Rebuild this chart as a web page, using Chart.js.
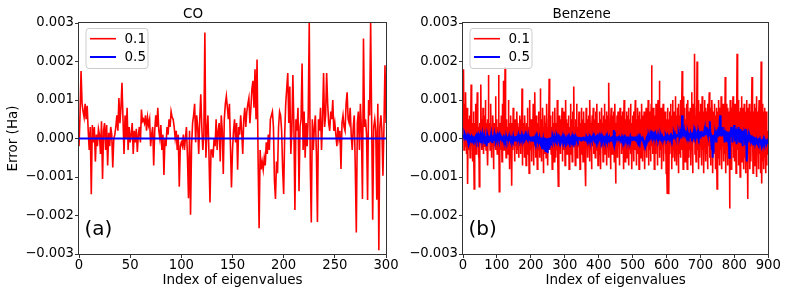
<!DOCTYPE html>
<html>
<head>
  <title>Eigenvalue errors: CO and Benzene</title>
  <script src="https://cdn.jsdelivr.net/npm/chart.js"></script>
  <style>
    body { margin: 0; background: #fff; }
    canvas { position: absolute; top: 0; }
  </style>
</head>
<body>
  <canvas id="coChart" width="430" height="296" style="left:0"></canvas>
  <canvas id="bzChart" width="394" height="296" style="left:395px"></canvas>

  <script>
    // errors are written in mHa (1e-3 Ha), one value per eigenvalue index
    const coErr01 = [
      -0.2,0.6,1.75,0.9,0.7,0.55,0.9,0.5,0.85,0.2,
      -0.3,0.3,-1.45,0.35,-0.1,0.3,-0.6,0.1,-0.2,0.25,
      0.1,-0.4,0.45,-1.05,0.2,0.4,-0.3,0.35,-0.7,0.15,
      -0.2,0.3,0.1,-0.75,0.0,0.1,0.3,0.6,0.2,1.05,
      0.4,0.8,1.45,0.5,-0.4,0.6,0.0,0.8,-0.3,0.3,
      -0.1,0.1,0.4,-0.4,0.2,-0.1,0.25,-0.35,0.1,0.3,
      -0.1,0.75,0.45,0.5,0.4,0.6,0.2,0.55,0.35,0.5,
      -0.2,0.1,0.3,-0.7,0.2,0.6,0.3,0.8,0.2,0.0,
      0.35,-0.3,0.1,-0.95,0.0,-0.2,0.3,0.1,0.5,0.3,
      0.7,0.55,0.5,0.3,0.0,0.2,-0.3,0.1,-1.25,-0.2,
      -0.1,-0.2,0.1,-0.3,0.0,0.3,-0.5,-1.55,0.2,-1.98,
      -0.2,0.4,0.6,0.9,-0.1,0.6,0.3,-0.4,0.5,1.15,
      0.3,-0.3,0.1,2.75,-0.5,0.2,0.6,-0.4,-1.66,-0.3,
      -0.3,-0.5,0.0,-0.2,0.5,-0.3,0.2,0.4,-0.6,0.6,
      0.2,-0.92,0.5,0.9,1.1,0.8,0.5,0.9,-0.2,-1.27,
      -0.3,0.2,0.5,-0.1,0.4,-0.81,0.3,0.1,0.6,0.2,
      -0.4,0.5,0.8,0.3,0.7,0.9,1.05,0.4,0.8,1.3,
      1.5,0.8,1.8,0.5,2.05,-0.5,-2.33,-0.3,-0.8,-0.6,
      -0.81,-0.5,-0.7,-0.1,-0.4,0.1,-0.3,0.5,0.6,0.7,
      0.3,-1.1,-1.57,-0.6,-0.9,0.3,0.7,0.6,0.2,-0.8,
      -1.44,0.1,0.9,1.3,1.7,0.4,1.35,-0.4,0.2,1.65,
      0.3,-1.86,0.5,0.2,0.8,-1.37,0.3,0.5,1.95,-0.3,
      0.7,-0.5,0.4,-0.2,0.6,3.0,-0.7,-2.18,0.5,-0.3,
      0.3,0.6,-0.4,-2.17,0.5,0.2,0.8,-0.3,0.5,1.7,
      0.3,0.6,1.7,0.9,0.4,0.2,0.7,0.5,1.0,0.2,
      0.4,0.1,-0.2,0.3,0.0,0.2,-0.79,0.4,0.6,0.3,
      0.2,0.9,1.2,0.5,0.4,0.8,0.1,-0.3,0.3,0.6,
      -0.8,-2.44,0.4,0.7,-0.3,0.9,0.2,-1.57,2.6,0.3,
      0.5,0.1,-1.6,1.0,0.6,3.0,0.4,-2.11,0.3,0.5,
      0.2,-1.59,0.9,-2.9,0.3,0.6,0.2,-0.97,0.3,1.9,
      0.4
    ];

    const coErr05 = [
      0,0,0,0,0,0,0,0,0,0, 0,0,0,0,0,0,0,0,0,0, 0,0,0,0,0,0,0,0,0,0,
      0,0,0,0,0,0,0,0,0,0, 0,0,0,0,0,0,0,0,0,0, 0,0,0,0,0,0,0,0,0,0,
      0,0,0,0,0,0,0,0,0,0, 0,0,0,0,0,0,0,0,0,0, 0,0,0,0,0,0,0,0,0,0,
      0,0,0,0,0,0,0,0,0,0, 0,0,0,0,0,0,0,0,0,0, 0,0,0,0,0,0,0,0,0,0,
      0,0,0,0,0,0,0,0,0,0, 0,0,0,0,0,0,0,0,0,0, 0,0,0,0,0,0,0,0,0,0,
      0,0,0,0,0,0,0,0,0,0, 0,0,0,0,0,0,0,0,0,0, 0,0,0,0,0,0,0,0,0,0,
      0,0,0,0,0,0,0,0,0,0, 0,0,0,0,0,0,0,0,0,0, 0,0,0,0,0,0,0,0,0,0,
      0,0,0,0,0,0,0,0,0,0, 0,0,0,0,0,0,0,0,0,0, 0,0,0,0,0,0,0,0,0,0,
      0,0,0,0,0,0,0,0,0,0, 0,0,0,0,0,0,0,0,0,0, 0,0,0,0,0,0,0,0,0,0,
      0,0,0,0,0,0,0,0,0,0, 0,0,0,0,0,0,0,0,0,0, 0,0,0,0,0,0,0,0,0,0,
      0
    ];

    const bzErr01 = [
      1.2,0.2,1.8,-0.3,0.4,0.9,-0.2,0.3,1.2,0.1,
      -0.4,0.3,0.8,-0.2,-1.18,0.2,0.5,-0.3,0.1,0.6,
      0.2,-0.5,0.4,0.1,1.4,-0.2,0.3,0.0,-0.6,0.4,
      0.1,0.7,-0.3,-1.31,0.2,0.4,-0.1,0.9,0.2,-0.4,
      0.3,0.0,1.2,-0.2,0.4,0.1,-0.5,0.3,-1.25,0.2,
      0.4,-0.1,0.2,1.4,0.0,-0.3,0.5,0.1,-0.2,0.8,
      0.2,-0.4,0.3,0.0,0.6,-0.2,1.0,0.1,-0.3,0.4,
      0.1,-0.2,0.5,-0.7,0.2,1.65,0.0,0.3,-0.1,0.4,
      -0.3,0.2,0.9,0.0,-0.5,0.3,0.1,-0.2,0.6,0.2,
      -0.8,0.1,0.4,-0.2,0.3,0.0,1.1,-0.3,0.2,0.5,
      0.0,-0.4,0.3,0.2,-0.1,1.65,0.3,-1.38,0.2,-0.2,
      0.4,0.1,-0.3,0.6,0.0,-0.6,0.2,0.9,-0.1,1.5,
      0.2,-0.3,0.4,0.1,1.85,-0.2,0.3,-0.5,0.0,0.5,
      -0.2,0.3,0.1,-0.4,1.0,0.2,-0.1,0.4,-0.8,0.2,
      0.6,-0.2,0.3,0.0,-1.23,0.4,0.1,-0.3,0.8,0.2,
      -0.1,0.3,-0.6,0.2,0.5,-0.2,0.1,0.0,-0.4,0.7,
      0.2,-0.3,0.4,0.1,-0.5,0.3,0.0,0.6,-0.2,0.3,
      -0.4,0.5,0.1,-0.2,1.3,-0.7,0.2,0.4,-0.1,0.3,
      0.0,-0.5,0.6,0.2,-0.2,0.3,-0.7,0.4,0.1,-0.3,
      0.8,0.2,-0.4,0.3,0.0,-0.9,0.2,1.0,-0.2,0.4,
      -0.3,0.5,0.1,-0.6,0.3,0.2,-0.1,0.9,-0.7,0.3,
      0.5,-0.2,1.2,0.1,-0.5,0.3,0.6,-0.2,0.2,-0.8,
      0.4,0.1,-0.3,0.7,-0.1,0.3,-0.5,0.2,1.3,-0.2,
      0.3,-0.6,0.5,0.0,-0.2,0.8,0.1,-0.9,0.3,0.1,
      -0.4,0.6,0.2,-0.1,0.4,-0.5,0.3,0.9,0.0,0.3,
      -0.7,0.2,0.5,0.1,1.55,-0.3,0.4,-0.1,0.6,0.0,
      -0.4,0.3,0.1,-0.8,0.7,0.2,-0.2,0.4,0.1,-0.6,
      0.3,0.8,-0.2,0.2,-0.5,0.4,0.0,-0.3,1.0,0.2,
      -0.6,-1.24,0.3,0.1,0.6,-0.2,0.4,-0.4,0.1,0.5,
      -0.1,0.3,0.8,-0.6,0.2,0.0,-0.3,0.4,0.7,-0.2,
      0.3,-0.7,0.1,1.0,-0.2,0.3,0.5,-0.4,0.0,0.4,
      -0.2,0.6,0.2,-0.8,0.3,0.1,-0.3,0.9,0.1,-0.4,
      0.5,0.0,-0.6,0.3,0.7,-0.1,0.4,1.35,-0.2,0.3,
      0.1,-0.7,0.5,0.2,-0.3,0.9,0.1,-0.5,0.3,0.0,
      -0.2,0.4,0.7,-0.1,0.3,-0.8,0.4,0.1,-0.4,0.8,
      0.2,-0.2,0.5,0.0,-0.6,0.3,0.7,-0.3,0.1,0.4,
      -0.7,0.3,-1.24,0.8,0.1,-0.2,0.5,0.0,-0.5,0.3,
      0.6,-0.1,0.2,-0.6,1.0,0.3,-0.3,0.4,0.0,-0.8,
      0.3,0.6,-0.2,0.1,0.8,-0.4,0.3,-0.1,0.5,0.2,
      -0.5,0.7,0.0,-0.3,0.4,0.9,-0.2,0.2,-0.7,0.4,
      0.1,-0.4,0.7,0.3,-0.2,0.5,-0.8,0.3,0.0,0.8,
      -0.2,0.4,0.2,-0.6,0.6,0.0,-0.3,0.9,0.1,-0.4,
      0.5,-0.1,0.3,0.7,-0.7,0.3,0.1,-0.2,0.6,-0.5,
      1.45,0.2,-0.3,0.4,0.0,-0.8,0.5,0.8,-0.2,0.3,
      -0.4,0.6,0.1,-0.2,0.7,0.0,-0.6,0.3,0.9,-0.1,
      -1.17,0.4,0.2,-0.3,0.6,0.0,-0.5,0.7,0.3,-0.2,
      0.5,-0.7,0.3,0.8,-0.1,0.2,0.6,-0.4,0.0,0.4,
      -0.3,0.7,0.1,-0.8,0.3,1.0,-0.1,0.3,-0.6,0.5,
      0.2,-0.2,0.7,0.0,-0.5,0.6,0.3,-0.1,0.8,-0.7,
      0.4,0.1,-0.3,0.5,0.9,-0.4,0.2,0.0,-0.8,0.4,
      0.6,-0.1,0.3,-0.6,0.7,0.0,-0.3,0.4,1.0,-0.2,
      0.1,-0.7,0.5,0.2,-0.4,0.8,0.0,-0.1,0.6,-0.8,
      0.3,0.7,-0.2,0.1,0.5,-0.5,0.3,0.9,0.0,0.2,
      -0.6,0.6,0.1,-0.3,0.7,0.4,-0.8,0.5,0.0,-0.2,
      0.8,0.2,-0.5,0.5,-0.1,0.3,1.0,-0.7,0.4,0.0,
      -0.3,0.7,0.1,-0.6,0.4,0.9,1.9,-0.2,0.6,-0.4,
      0.3,0.8,-0.1,0.5,-0.8,0.2,0.6,0.0,-0.4,0.9,
      0.1,-0.2,0.7,-0.7,0.4,1.0,0.0,0.5,0.2,1.5,
      -0.5,0.6,0.0,-0.3,0.8,0.4,-0.8,0.5,0.1,-0.2,
      0.9,0.3,-0.6,0.6,-0.1,0.4,0.7,-0.4,0.2,-0.9,
      0.5,-0.7,-1.42,0.8,0.2,-0.3,0.5,-1.45,0.1,0.7,
      -0.4,0.4,0.9,-0.1,0.6,-0.8,0.3,0.0,1.0,-0.5,
      0.5,0.1,-0.3,0.7,-0.6,0.4,1.1,-0.1,0.3,0.6,
      -0.7,0.2,0.8,-0.2,0.5,-0.9,0.9,0.1,-0.4,0.6,
      0.3,-0.5,1.0,0.0,-0.3,0.7,1.75,-0.1,0.4,-0.8,
      0.5,1.1,-0.2,0.3,0.8,-0.6,0.5,0.1,-0.4,0.9,
      0.2,-0.8,0.6,1.0,-0.1,0.4,-0.5,0.7,0.0,-0.3,
      0.8,0.3,-0.7,0.5,1.2,-0.2,0.4,-0.9,0.6,0.9,
      -0.1,0.5,0.7,2.2,-0.4,0.6,0.2,-0.6,0.8,0.1,
      2.0,-0.3,0.6,1.0,-0.8,0.4,0.0,0.7,-0.5,0.3,
      0.9,-0.2,0.5,0.1,-0.7,1.1,0.4,-0.3,0.7,0.0,
      -0.9,0.6,1.0,-0.1,0.3,-0.6,0.8,0.2,-0.4,0.7,
      0.1,-0.8,0.9,0.4,-0.2,0.6,1.2,-0.5,0.3,0.5,
      -0.7,0.8,0.1,-0.3,1.0,0.5,-0.9,0.2,0.7,-0.1,
      0.5,0.9,-0.4,0.3,-0.8,0.6,0.1,0.8,-0.2,-1.31,
      0.4,0.7,-0.5,0.2,1.0,-0.1,0.5,-0.7,0.8,0.3,
      -0.3,1.1,0.0,-0.8,0.6,0.4,-0.2,0.9,0.1,-0.6,
      0.7,0.3,-0.4,1.6,0.2,-0.9,0.5,0.9,-0.1,0.4,
      -0.7,0.8,0.1,-0.3,0.7,0.5,-1.82,0.2,1.0,-0.4,
      0.5,-0.8,0.8,0.3,-0.2,0.6,1.1,-0.5,0.1,0.7,
      -0.6,0.4,0.9,-0.1,0.6,-0.9,0.7,0.2,2.2,-0.3,
      0.5,1.0,-0.7,0.3,0.7,-0.2,0.5,-1.0,0.8,0.1,
      -0.4,0.6,1.1,-0.6,0.3,0.8,-0.1,0.5,-0.8,0.9,
      0.2,-0.5,0.7,0.4,-0.9,0.6,1.0,-0.3,0.1,0.5,
      -1.57,0.8,0.3,-0.4,0.9,0.5,-0.8,0.2,0.7,-0.6,
      0.4,1.0,1.6,-0.2,0.5,-0.9,0.7,0.1,-0.5,0.9,
      0.3,-0.7,0.8,0.5,-0.3,1.1,-1.0,0.4,0.6,-0.1,
      0.7,-0.8,0.5,1.0,-0.4,0.2,0.8,-0.9,0.5,2.0,
      -0.3,-1.17,0.6,0.9,-0.6,0.4,0.7,-0.8,0.2,0.8,
      -0.5,0.6,-0.9,0.3,0.7,-0.7,0.1,-0.4,0.0,0.2
    ];

    const bzErr05 = [
      0.1,0.06,0.09,0.03,0.07,0.1,0.05,-0.02,0.06,0.02,
      0.04,-0.05,0.03,0.0,-0.03,0.05,0.02,-0.02,0.03,0.0,
      -0.04,0.02,0.05,-0.01,0.03,0.0,-0.06,0.02,0.04,-0.02,
      0.01,0.03,-0.03,0.0,0.05,-0.02,0.02,0.0,-0.04,0.03,
      0.02,-0.05,0.04,0.01,-0.02,0.06,0.0,-0.03,0.02,0.04,
      -0.08,0.02,0.05,-0.12,0.03,0.0,-0.04,0.07,-0.02,0.02,
      0.0,-0.06,0.03,0.08,-0.15,0.02,0.05,-0.03,0.0,0.04,
      -0.2,0.03,-0.05,0.06,0.0,-0.12,0.04,0.02,-0.05,0.03,
      0.05,-0.08,0.0,0.1,-0.04,0.02,-0.1,0.06,0.01,-0.03,
      0.04,-0.02,0.08,0.0,-0.06,0.03,0.05,-0.04,0.02,0.0,
      -0.03,0.05,0.02,-0.05,0.04,0.0,-0.02,0.06,0.01,-0.04,
      0.03,0.0,-0.05,0.04,0.02,-0.03,0.05,-0.01,0.02,0.0,
      -0.04,0.03,0.06,-0.02,0.01,0.04,-0.05,0.02,0.0,0.03,
      -0.02,0.05,0.01,-0.04,0.03,0.0,0.06,-0.03,0.02,-0.01,
      0.04,-0.06,0.02,0.05,-0.02,0.0,0.03,-0.04,0.05,0.01,
      -0.03,0.02,0.06,0.0,-0.05,0.04,0.01,-0.02,0.07,0.03,
      0.05,0.1,0.02,0.08,-0.03,0.12,0.04,0.09,0.0,0.06,
      0.11,0.03,0.08,-0.02,0.1,0.05,0.07,0.02,0.09,0.04,
      0.06,0.12,0.03,0.08,-0.04,0.05,0.1,0.02,0.07,0.0,
      0.04,-0.03,0.06,0.02,-0.05,0.03,0.0,0.05,-0.02,0.01,
      0.03,-0.04,0.02,0.05,-0.06,0.0,0.04,-0.03,0.02,0.06,
      -0.02,0.03,-0.08,0.01,0.04,-0.05,0.02,0.0,-0.1,0.03,
      -0.04,0.02,-0.12,0.05,-0.06,0.0,-0.15,0.03,-0.08,-0.02,
      -0.18,0.02,-0.1,-0.25,0.0,-0.14,-0.05,-0.22,0.03,-0.12,
      -0.3,-0.08,-0.2,0.02,-0.35,-0.1,-0.28,0.0,-0.15,-0.38,
      -0.05,-0.22,-0.3,0.02,-0.12,-0.25,0.0,-0.08,-0.18,0.03,
      -0.06,0.02,-0.1,0.04,-0.03,0.05,0.0,-0.05,0.03,0.01,
      -0.02,0.04,0.0,-0.04,0.03,0.02,-0.03,0.05,0.0,-0.02,
      0.03,0.0,-0.05,0.04,0.01,-0.03,0.02,0.05,-0.02,0.0,
      0.04,-0.03,0.02,0.0,-0.04,0.05,0.01,-0.02,0.03,0.0,
      -0.03,0.02,0.04,-0.01,0.0,0.03,-0.04,0.02,0.01,-0.02,
      0.03,0.0,-0.03,0.04,0.02,-0.02,0.0,0.03,-0.04,0.01,
      0.02,-0.03,0.05,0.0,-0.02,0.03,0.01,-0.04,0.02,0.0,
      -0.02,0.04,0.0,-0.03,0.02,0.05,-0.01,0.0,0.03,-0.04,
      0.01,0.03,-0.02,0.0,0.04,-0.03,0.02,0.01,-0.05,0.03,
      0.0,-0.02,0.04,0.02,-0.03,0.0,0.05,-0.02,0.01,0.03,
      -0.04,0.02,0.0,0.03,-0.02,0.04,0.01,-0.03,0.0,0.02,
      0.05,-0.01,0.02,-0.04,0.03,0.0,-0.02,0.04,0.02,-0.03,
      0.0,0.03,-0.05,0.02,0.01,-0.02,0.04,0.0,-0.03,0.05,
      0.02,-0.04,0.0,0.03,-0.01,0.02,0.05,-0.03,0.0,0.01,
      -0.02,0.04,0.02,-0.05,0.03,0.0,-0.02,0.05,0.01,-0.03,
      0.03,0.0,-0.04,0.02,0.06,-0.02,0.01,0.03,-0.05,0.0,
      0.02,-0.03,0.04,0.0,-0.02,0.05,-0.04,0.02,0.03,-0.01,
      0.0,0.04,-0.03,0.02,-0.06,0.03,0.01,-0.02,0.05,0.0,
      -0.04,0.02,0.08,-0.1,0.22,-0.15,0.05,0.18,-0.08,0.02,
      0.04,-0.05,0.0,0.03,-0.02,0.06,0.01,-0.03,0.02,0.0,
      0.03,-0.04,0.02,0.0,0.05,-0.02,0.01,0.04,-0.03,0.0,
      -0.02,0.03,0.0,0.05,-0.04,0.02,0.01,-0.02,0.04,0.0,
      0.02,-0.03,0.05,0.0,-0.02,0.03,-0.05,0.01,0.04,-0.01,
      0.0,0.03,-0.02,0.04,0.01,-0.04,0.02,0.0,0.05,-0.02,
      0.03,0.0,-0.03,0.02,0.05,-0.02,0.01,0.04,-0.04,0.0,
      0.02,0.05,-0.02,0.0,0.03,-0.05,0.02,0.01,-0.03,0.04,
      0.0,-0.02,0.03,0.01,-0.04,0.02,0.05,0.0,-0.03,0.02,
      0.0,-0.08,-0.12,-0.06,-0.1,-0.15,-0.05,-0.12,-0.08,-0.1,
      -0.04,-0.12,-0.06,0.0,-0.1,-0.03,0.02,-0.08,0.04,-0.02,
      0.05,0.0,0.1,0.03,0.14,0.06,0.2,0.02,0.12,0.08,
      0.15,0.04,0.1,0.06,0.18,0.02,0.08,0.12,0.03,0.07,
      0.05,0.1,0.02,0.06,-0.02,0.08,0.04,0.0,0.06,0.03,
      0.05,-0.02,0.04,0.07,0.01,0.05,-0.03,0.06,0.02,0.04,
      0.0,0.05,0.03,-0.02,0.06,0.02,0.04,0.0,0.07,0.03,
      0.05,0.01,0.06,0.03,-0.02,0.05,0.08,0.02,0.04,0.06,
      0.03,0.07,0.01,0.05,0.08,0.02,0.06,0.04,0.09,0.03,
      0.07,0.05,0.1,0.04,0.08,0.12,0.06,0.09,0.05,0.11,
      0.08,0.06,0.12,0.09,0.07,0.1,0.14,0.08,0.11,0.06,
      0.12,0.09,0.15,0.1,0.2,0.08,0.6,0.15,0.3,0.1,
      0.12,0.08,0.18,0.1,0.06,0.14,0.09,0.2,0.11,0.07,
      0.1,0.13,0.06,0.15,0.09,0.12,0.05,0.1,0.14,0.08,
      0.11,0.07,0.13,0.09,0.15,0.06,0.1,0.12,0.08,0.14,
      0.09,0.12,0.06,0.16,0.1,0.08,0.13,0.07,0.11,0.09,
      0.14,0.08,0.1,0.12,0.06,0.15,0.09,0.11,0.07,0.13,
      0.1,0.16,0.08,0.12,0.2,0.09,0.14,0.11,0.07,0.13,
      0.1,0.18,0.12,0.08,0.22,0.1,0.15,0.3,0.12,0.09,
      0.16,0.1,0.25,0.08,0.14,0.2,0.12,0.18,0.45,0.15,
      0.08,0.02,-0.1,0.05,-0.3,0.1,-0.5,-0.15,0.08,-0.2,
      0.05,0.1,-0.05,0.12,0.02,0.15,-0.08,0.1,0.2,0.05,
      0.12,0.25,0.08,0.15,0.3,0.1,0.2,0.4,0.6,0.25,
      0.1,0.2,0.05,0.15,0.3,0.08,0.18,0.12,0.22,0.1,
      0.05,0.15,-0.1,0.1,0.2,0.02,-0.05,0.12,0.08,0.18,
      -0.1,0.05,0.15,-0.2,0.1,-0.5,-0.3,0.08,0.2,0.05,
      0.15,0.3,0.05,0.2,0.1,-0.1,0.25,0.08,0.15,0.35,
      0.1,0.2,-0.05,0.15,0.08,0.25,0.02,-0.15,0.12,0.2,
      0.05,0.15,0.3,0.1,-0.08,0.2,0.12,0.05,0.25,0.1,
      -0.1,0.15,0.05,0.2,-0.2,0.1,0.08,0.18,-0.05,0.12,
      0.2,0.05,-0.15,0.1,0.25,0.0,-0.3,-0.6,0.05,0.1,
      -0.1,0.05,0.12,-0.05,0.08,0.02,0.1,-0.08,0.05,0.0,
      -0.05,0.08,-0.1,0.02,-0.12,0.05,-0.08,0.0,-0.15,0.03,
      -0.06,-0.12,0.02,-0.1,-0.05,-0.15,0.0,-0.08,-0.12,-0.03,
      -0.1,-0.05,-0.14,0.02,-0.08,-0.12,-0.04,-0.1,-0.06,-0.15,
      -0.08,-0.02,-0.12,-0.06,-0.1,-0.04,-0.14,-0.08,-0.03,-0.1,
      -0.12,-0.06,-0.09,-0.04,-0.11,-0.07,-0.1,-0.05,-0.08,-0.06
    ];

    const seriesLabels = ['0.1', '0.5'];
    const yTicks = [-0.003, -0.002, -0.001, 0, 0.001, 0.002, 0.003];
    const yTickLabels = ['\u22120.003', '\u22120.002', '\u22120.001', '0.000', '0.001', '0.002', '0.003'];
    const coXTicks = [0, 50, 100, 150, 200, 250, 300];
    const bzXTicks = [0, 100, 200, 300, 400, 500, 600, 700, 800, 900];

    Chart.defaults.font.family = 'DejaVu Sans';
    Chart.defaults.color = '#000';

    // frame, in-axes legend and panel tag, drawn the matplotlib way
    const panelDeco = {
      id: 'panelDeco',
      afterDatasetsDraw(chart, args, opts) {
        const ctx = chart.ctx;
        const a = chart.chartArea;
        ctx.save();
        ctx.strokeStyle = '#333';
        ctx.lineWidth = 1;
        ctx.strokeRect(Math.round(a.left) - 0.5, Math.round(a.top) - 0.5,
                       Math.round(a.right - a.left) + 1, Math.round(a.bottom - a.top) + 1);

        const lx = a.left + 6.5, ly = a.top + 5;
        ctx.beginPath();
        ctx.roundRect(lx + 0.5, ly + 0.5, 62, 40, 3);
        ctx.fillStyle = 'rgba(255,255,255,0.8)';
        ctx.fill();
        ctx.strokeStyle = '#ccc';
        ctx.stroke();

        ctx.font = '13.5px "DejaVu Sans"';
        ctx.textBaseline = 'middle';
        ctx.textAlign = 'left';
        chart.data.datasets.forEach((ds, i) => {
          const y = ly + 10.7 + i * 18.3;
          ctx.beginPath();
          ctx.strokeStyle = ds.borderColor;
          ctx.lineWidth = ds.borderWidth;
          ctx.moveTo(lx + 4.5, y);
          ctx.lineTo(lx + 30.5, y);
          ctx.stroke();
          ctx.fillStyle = '#000';
          ctx.fillText(ds.label, lx + 39, y + 0.9);
        });

        ctx.font = '20px "DejaVu Sans"';
        ctx.textBaseline = 'alphabetic';
        ctx.fillText(opts.tag, a.left + 5.5, 235);
        ctx.restore();
      }
    };

    function createChart(id, title, red, blue, xMax, xTicks, yWidth, padRight, tag, yTitle) {
      const ctx = document.getElementById(id).getContext('2d');
      return new Chart(ctx, {
        type: 'line',
        data: {
          datasets: [{
            label: seriesLabels[0],
            data: red.map((v, i) => ({ x: i, y: v / 1000 })),
            borderColor: '#ff0000',
            borderWidth: 1.6,
            order: 2
          }, {
            label: seriesLabels[1],
            data: blue.map((v, i) => ({ x: i, y: v / 1000 })),
            borderColor: '#0000ff',
            borderWidth: 2,
            order: 1
          }]
        },
        options: {
          responsive: false,
          animation: false,
          events: [],
          layout: { padding: { left: 0, top: 0, bottom: 0, right: padRight } },
          elements: { point: { radius: 0 }, line: { tension: 0 } },
          plugins: {
            legend: { display: false },
            tooltip: { enabled: false },
            title: {
              display: true,
              text: title,
              font: { size: 13.5, weight: 'normal' },
              padding: { top: 6.8, bottom: 0 }
            },
            panelDeco: { tag: tag }
          },
          scales: {
            x: {
              type: 'linear',
              min: 0,
              max: xMax,
              afterBuildTicks: axis => { axis.ticks = xTicks.map(v => ({ value: v })); },
              afterFit: axis => { axis.height = 42; axis.paddingLeft = 0; axis.paddingRight = 0; },
              ticks: { font: { size: 13.2 }, padding: 0, maxRotation: 0, autoSkip: false },
              grid: { drawOnChartArea: false, drawTicks: true, tickLength: 4, color: '#333' },
              border: { display: false },
              title: {
                display: true,
                text: 'Index of eigenvalues',
                font: { size: 13.5 },
                padding: { top: 0, bottom: 7 }
              }
            },
            y: {
              min: -0.003,
              max: 0.003,
              afterBuildTicks: axis => { axis.ticks = yTicks.map(v => ({ value: v })); },
              afterFit: axis => { axis.width = yWidth; axis.paddingTop = 0; axis.paddingBottom = 0; },
              ticks: {
                font: { size: 13.2 },
                padding: 1,
                autoSkip: false,
                callback: (v, i) => yTickLabels[i]
              },
              grid: { drawOnChartArea: false, drawTicks: true, tickLength: 4, color: '#333' },
              border: { display: false },
              title: {
                display: !!yTitle,
                text: yTitle || '',
                font: { size: 13.5 },
                padding: { top: 5.4, bottom: 0 }
              }
            }
          }
        },
        plugins: [panelDeco]
      });
    }

    createChart('coChart', 'CO', coErr01, coErr05, 300, coXTicks, 79, 44, '(a)', 'Error (Ha)');
    createChart('bzChart', 'Benzene', bzErr01, bzErr05, 900, bzXTicks, 68, 20.7, '(b)', null);
  </script>
</body>
</html>
